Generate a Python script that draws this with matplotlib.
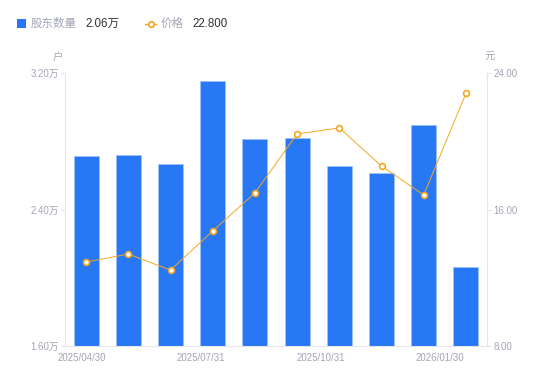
import numpy as np
import matplotlib.pyplot as plt
from matplotlib.lines import Line2D
from matplotlib.patches import Rectangle

plt.rcParams['font.family'] = ['Liberation Sans', 'Noto Sans CJK SC', 'DejaVu Sans']

# holders in units of 万 (10k), price in 元
holders = [2.714, 2.72, 2.667, 3.153, 2.813, 2.819, 2.655, 2.614, 2.895, 2.063]
price = [12.92, 13.39, 12.45, 14.74, 16.97, 20.43, 20.78, 18.55, 16.85, 22.80]
xlabels = ['2025/04/30', '2025/07/31', '2025/10/31', '2026/01/30']
left_ticks = [1.60, 2.40, 3.20]
right_ticks = [8.0, 16.0, 24.0]

blue = '#2878F5'
orange = '#F5A623'
gray = '#A3A6B4'
axis_gray = '#E3E5EA'

fig = plt.figure(figsize=(5.5, 3.81), dpi=100)
ax = fig.add_axes([65 / 550, 1 - 346 / 381, 422 / 550, 273 / 381])
ax2 = ax.twinx()

x = np.arange(len(holders))
ax.bar(x, holders, width=0.59, color=blue, edgecolor='#9CC1FA', linewidth=0.6, zorder=2)
ax.set_xlim(-0.5, len(holders) - 0.5)
ax.set_ylim(left_ticks[0], left_ticks[-1])
ax.set_yticks(left_ticks)
ax.set_yticklabels([f'{v:.2f}万' for v in left_ticks])

ax2.plot(x, price, color=orange, linewidth=0.7, marker='o', markersize=4.2,
         markerfacecolor='white', markeredgecolor=orange, markeredgewidth=1.2, zorder=3)
ax2.set_ylim(right_ticks[0], right_ticks[-1])
ax2.set_yticks(right_ticks)
ax2.set_yticklabels([f'{v:.2f}' for v in right_ticks])

ax.set_xticks(np.linspace(-0.1, 8.39, len(xlabels)))
ax.set_xticklabels(xlabels)

for a in (ax, ax2):
    for s in a.spines.values():
        s.set_visible(False)
    a.tick_params(colors=gray, labelsize=7, length=3, width=0.8, color=axis_gray, pad=1.5)
ax.tick_params(axis='x', length=0, pad=5)
ax.spines['left'].set_visible(True)
ax.spines['left'].set_color(axis_gray)
ax.spines['bottom'].set_visible(True)
ax.spines['bottom'].set_color(axis_gray)
ax2.spines['right'].set_visible(True)
ax2.spines['right'].set_color(axis_gray)
for a in (ax, ax2):
    for s in a.spines.values():
        s.set_linewidth(0.8)

# unit labels
fig.text(58 / 550, 1 - 57 / 381, '户', color=gray, fontsize=7.5, ha='center', va='center')
fig.text(490 / 550, 1 - 57 / 381, '元', color=gray, fontsize=7.5, ha='center', va='center')

# legend row
fig.patches.append(Rectangle((17 / 550, 1 - 28 / 381), 9 / 550, 9 / 381, transform=fig.transFigure,
                             facecolor=blue, edgecolor='none'))
fig.text(31 / 550, 1 - 24 / 381, '股东数量', color=gray, fontsize=8.3, va='center')
fig.text(85 / 550, 1 - 24 / 381, f'{holders[-1]:.2f}万', color='#333333', fontsize=8.3, va='center')
fig.lines.append(Line2D([145 / 550, 156 / 550], [1 - 24 / 381] * 2, transform=fig.transFigure,
                        color=orange, linewidth=1.0))
fig.lines.append(Line2D([150.5 / 550], [1 - 24 / 381], transform=fig.transFigure, marker='o',
                        markersize=4, markerfacecolor='white', markeredgecolor=orange,
                        markeredgewidth=1.2, linestyle='none'))
fig.text(161 / 550, 1 - 24 / 381, '价格', color=gray, fontsize=8.3, va='center')
fig.text(192 / 550, 1 - 24 / 381, f'{price[-1]:.3f}', color='#333333', fontsize=8.3, va='center')

fig.savefig('out.png', dpi=100)
